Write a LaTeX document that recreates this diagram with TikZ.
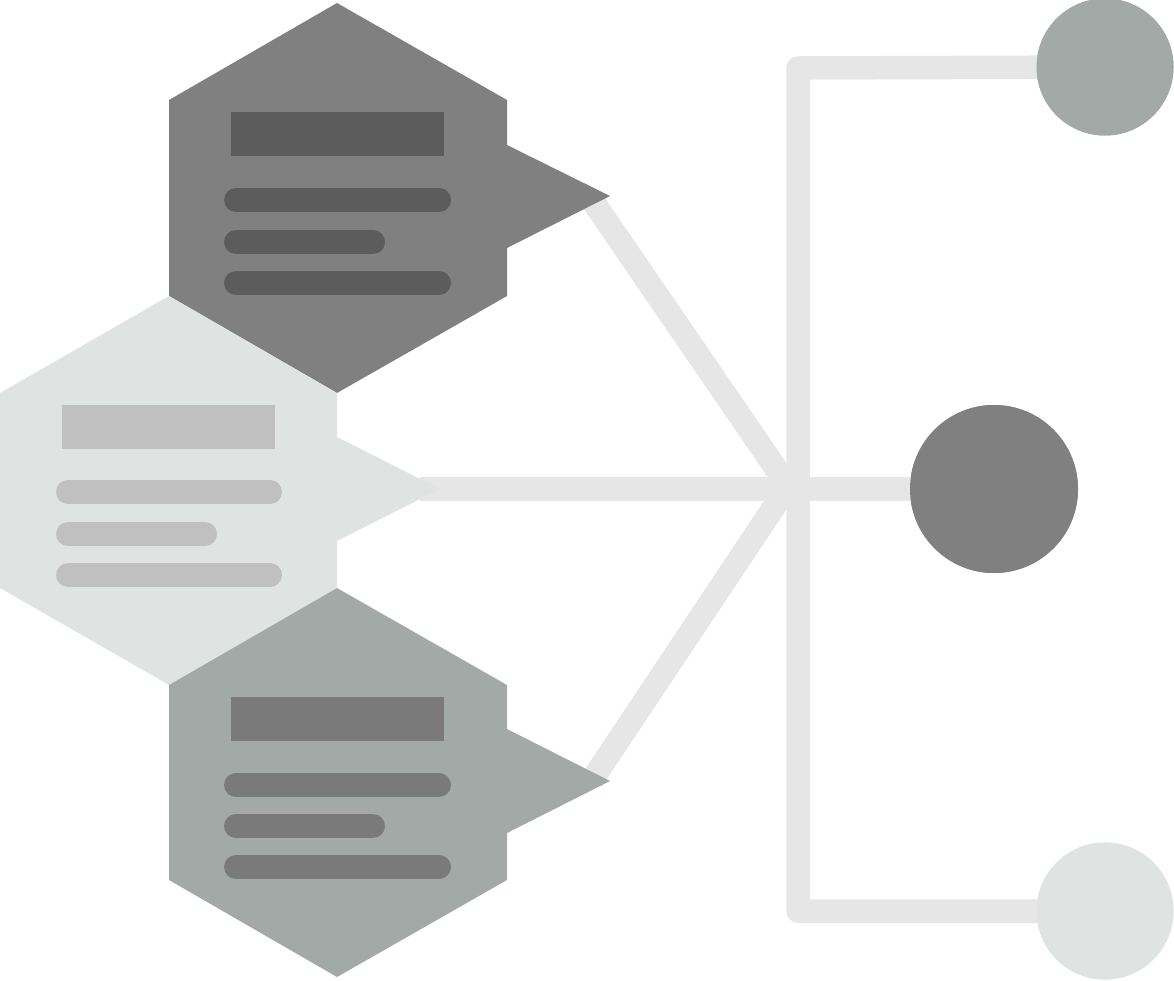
\documentclass[tikz,border=0pt]{standalone}
\begin{document}
\begin{tikzpicture}[x=1pt,y=-1pt,
  conn/.style={draw=lineg,line width=23.5pt},
  bar/.style={line width=24pt,line cap=round},
  dot/.style={circle,inner sep=0pt,draw=none}]
\definecolor{lineg}{HTML}{E6E6E6}
\definecolor{darkg}{HTML}{808080}
\definecolor{darkbar}{HTML}{5C5C5C}
\definecolor{lightg}{HTML}{DFE4E3}
\definecolor{lightbar}{HTML}{C0C0C0}
\definecolor{midg}{HTML}{A3A9A7}
\definecolor{midbar}{HTML}{7A7A7A}
\useasboundingbox (0,0) rectangle (1174,980);
% circles (named nodes)
\node[dot,fill=midg,minimum size=137pt] (c1) at (1105,67) {};
\node[dot,fill=darkg,minimum size=168pt] (c2) at (994,489) {};
\node[dot,fill=lightg,minimum size=137pt] (c3) at (1105,911) {};
% connector coordinates
\coordinate (j) at (788,486);
\coordinate (ptop) at (592,200);
\coordinate (pmid) at (420,489);
\coordinate (pbot) at (592,780);
% connectors
\draw[conn] (ptop) -- (j);
\draw[conn] (pbot) -- (j);
\draw[conn] (pmid) -- (c2.center);
\draw[conn,line join=round] (c1.center) -- (798,68) -- (798,911) -- (c3.center);
% redraw circles on top
\fill[midg] (c1) circle (68.5);
\fill[darkg] (c2) circle (84);
\fill[lightg] (c3) circle (68.5);
% top hexagon
\fill[darkg] (337,3) -- (507,100) -- (507,145) -- (610,196) -- (507,248) -- (507,296) -- (337,393) -- (169,296) -- (169,100) -- cycle;
\fill[darkbar] (231,112) rectangle (444,156);
\draw[bar,darkbar] (236,200) -- (439,200);
\draw[bar,darkbar] (236,242) -- (373,242);
\draw[bar,darkbar] (236,283) -- (439,283);
% middle hexagon
\fill[lightg] (169,296) -- (337,393) -- (337,437) -- (440,489) -- (337,541) -- (337,588) -- (169,685) -- (0,588) -- (0,393) -- cycle;
\fill[lightbar] (62,405) rectangle (275,449);
\draw[bar,lightbar] (68,492) -- (270,492);
\draw[bar,lightbar] (68,534) -- (205,534);
\draw[bar,lightbar] (68,575) -- (270,575);
% bottom hexagon
\fill[midg] (337,588) -- (507,685) -- (507,729) -- (610,781) -- (507,833) -- (507,880) -- (337,977) -- (169,880) -- (169,685) -- cycle;
\fill[midbar] (231,697) rectangle (444,741);
\draw[bar,midbar] (236,785) -- (439,785);
\draw[bar,midbar] (236,826) -- (373,826);
\draw[bar,midbar] (236,867) -- (439,867);
\end{tikzpicture}
\end{document}
